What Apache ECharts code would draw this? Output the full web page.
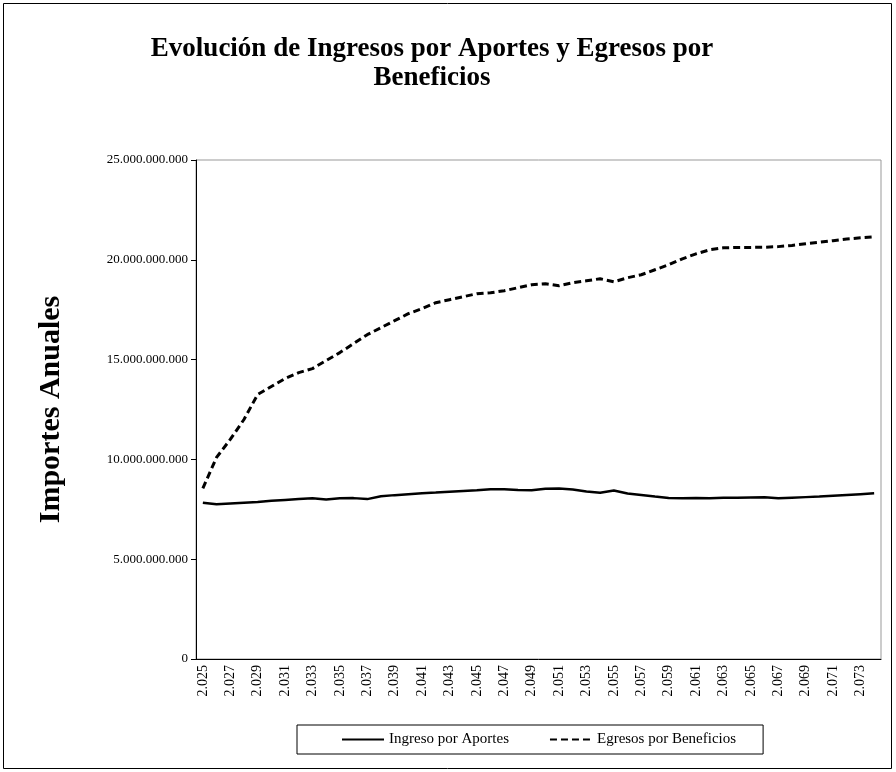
<!DOCTYPE html>
<html>
<head>
<meta charset="utf-8">
<script src="https://cdn.jsdelivr.net/npm/echarts@6/dist/echarts.min.js"></script>
<style>
html, body { margin: 0; padding: 0; background: #fff; }
#chart { width: 896px; height: 772px; }
</style>
</head>
<body>
<div id="chart"></div>
<script>
var years = [];
for (var y = 2025; y <= 2074; y++) { years.push(y); }

// valores en miles de millones
var ingresos = [
    7.83, 7.75, 7.79, 7.83, 7.87, 7.93, 7.97, 8.01, 8.05, 7.99,
    8.05, 8.06, 8.01, 8.15, 8.21, 8.26, 8.31, 8.34, 8.38, 8.42,
    8.46, 8.51, 8.51, 8.47, 8.46, 8.53, 8.54, 8.49, 8.39, 8.33,
    8.44, 8.29, 8.22, 8.14, 8.07, 8.05, 8.06, 8.05, 8.08, 8.08,
    8.09, 8.10, 8.05, 8.08, 8.11, 8.14, 8.18, 8.22, 8.26, 8.30
];
var egresos = [
    8.55, 10.1, 11.0, 12.0, 13.25, 13.65, 14.05, 14.35, 14.55, 14.95,
    15.35, 15.8, 16.25, 16.6, 16.95, 17.3, 17.55, 17.85, 18.0, 18.15,
    18.3, 18.35, 18.45, 18.6, 18.75, 18.8, 18.7, 18.85, 18.95, 19.05,
    18.9, 19.1, 19.25, 19.5, 19.75, 20.05, 20.3, 20.5, 20.6, 20.62,
    20.62, 20.63, 20.66, 20.72, 20.8, 20.88, 20.96, 21.04, 21.1, 21.15
];

function fmtMiles(v) {
    return String(Math.round(v)).replace(/\B(?=(\d{3})+(?!\d))/g, '.');
}

var xAxis_data = years.map(function (y) { return fmtMiles(y); });
var serie_ing = ingresos.map(function (v) { return v * 1e9; });
var serie_egr = egresos.map(function (v) { return v * 1e9; });

var font = '"Liberation Serif", "Times New Roman", serif';

var myChart = echarts.init(document.getElementById('chart'));
var option = {
    backgroundColor: '#fff',
    animation: false,
    textStyle: { fontFamily: font, color: '#000' },
    graphic: [{
        type: 'rect',
        shape: { x: 3.5, y: 3.5, width: 888, height: 765 },
        style: { fill: 'none', stroke: '#000', lineWidth: 1 },
        silent: true
    }],
    title: {
        text: 'Evolución de Ingresos por Aportes y Egresos por\nBeneficios',
        left: 427,
        textAlign: 'center',
        top: 30,
        textStyle: {
            fontFamily: font,
            fontSize: 27,
            fontWeight: 'bold',
            lineHeight: 29,
            color: '#000'
        }
    },
    legend: {
        left: 297,
        top: 725,
        padding: [7, 27, 7, 44],
        itemGap: 40,
        itemWidth: 42,
        itemHeight: 14,
        borderColor: '#000',
        borderWidth: 1,
        itemStyle: { opacity: 0 },
        textStyle: { fontFamily: font, fontSize: 15, color: '#000' },
        data: ['Ingreso por Aportes', 'Egresos por Beneficios']
    },
    grid: {
        left: 196,
        right: 15,
        top: 160,
        bottom: 113,
        show: true,
        borderColor: '#999',
        borderWidth: 1
    },
    xAxis: {
        type: 'category',
        data: xAxis_data,
        boundaryGap: true,
        axisLine: { lineStyle: { color: '#000', width: 1 } },
        axisTick: { interval: 0, length: 5, lineStyle: { color: '#000' } },
        axisLabel: {
            interval: 1,
            rotate: 90,
            fontFamily: font,
            fontSize: 14,
            color: '#000',
            margin: 6
        }
    },
    yAxis: {
        type: 'value',
        min: 0,
        max: 25e9,
        interval: 5e9,
        name: 'Importes Anuales',
        nameLocation: 'middle',
        nameRotate: 90,
        nameGap: 130,
        nameTextStyle: { fontFamily: font, fontSize: 30, fontWeight: 'bold', color: '#000' },
        axisLine: { show: true, lineStyle: { color: '#000', width: 1 } },
        axisTick: { show: true, length: 5, lineStyle: { color: '#000' } },
        splitLine: { show: false },
        axisLabel: {
            fontFamily: font,
            fontSize: 13,
            color: '#000',
            margin: 8,
            formatter: function (v) { return fmtMiles(v); }
        }
    },
    series: [
        {
            name: 'Ingreso por Aportes',
            type: 'line',
            data: serie_ing,
            symbol: 'none',
            itemStyle: { color: '#000' },
            lineStyle: { color: '#000', width: 2.5, type: 'solid' }
        },
        {
            name: 'Egresos por Beneficios',
            type: 'line',
            data: serie_egr,
            symbol: 'none',
            itemStyle: { color: '#000' },
            lineStyle: { color: '#000', width: 3, type: [7, 4] }
        }
    ]
};
myChart.setOption(option);
</script>
</body>
</html>
